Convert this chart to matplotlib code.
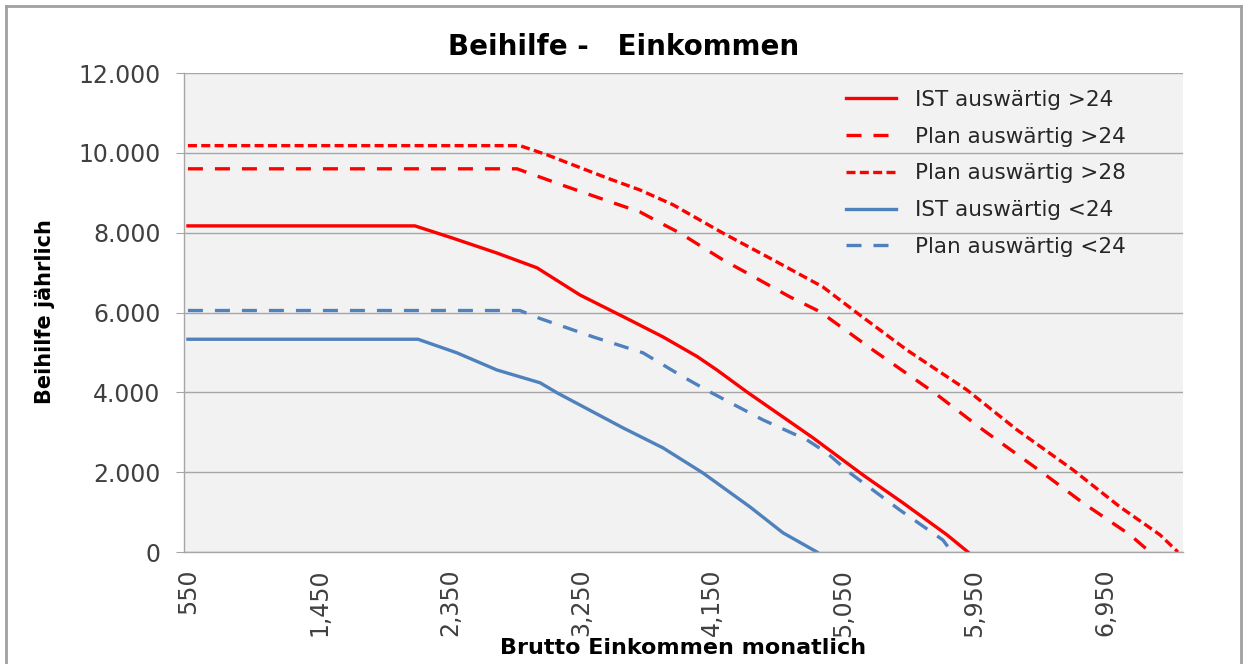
import matplotlib.pyplot as plt
from matplotlib.lines import Line2D
from matplotlib.ticker import FuncFormatter

# Brutto Einkommen (EUR/Monat) -> Beihilfe (EUR/Jahr)
ist_gt24_x = [550, 2109, 2363, 2672, 2947, 3242, 3586, 3812, 4046, 4183, 4389, 4843, 5186, 5461, 5763, 5907]
ist_gt24_y = [8170, 8170, 7870, 7490, 7120, 6440, 5810, 5390, 4900, 4560, 4010, 2860, 1930, 1230, 430, 0]

plan_gt24_x = [550, 2810, 3153, 3469, 3654, 3792, 3929, 4224, 4389, 4685, 4891, 5255, 5680, 6010, 6422, 6697, 7020, 7157]
plan_gt24_y = [9600, 9600, 9150, 8750, 8520, 8250, 7990, 7320, 6990, 6390, 6020, 5060, 3980, 3060, 1980, 1230, 430, 0]

plan_gt28_x = [550, 2830, 3016, 3428, 3654, 3881, 4224, 4568, 4911, 5145, 5488, 5900, 6244, 6628, 6951, 7226, 7349]
plan_gt28_y = [10180, 10180, 9950, 9370, 9070, 8700, 7990, 7320, 6640, 5990, 5060, 4060, 3060, 2060, 1130, 430, 0]

ist_lt24_x = [550, 2130, 2397, 2672, 2968, 3084, 3538, 3812, 4087, 4410, 4637, 4870]
ist_lt24_y = [5330, 5330, 4990, 4560, 4240, 3990, 3110, 2610, 1980, 1130, 480, 0]

plan_lt24_x = [550, 2830, 2968, 3332, 3675, 3950, 4135, 4499, 4801, 4939, 5097, 5440, 5735, 5797]
plan_lt24_y = [6050, 6050, 5850, 5390, 4990, 4390, 4010, 3310, 2810, 2480, 1980, 1050, 300, 0]

x_tick_pos = [550, 1450, 2350, 3250, 4150, 5050, 5950, 6850]
x_tick_labels = ['550', '1,450', '2,350', '3,250', '4,150', '5,050', '5,950', '6,950']
y_ticks = [0, 2000, 4000, 6000, 8000, 10000, 12000]

RED = '#FF0000'
BLUE = '#4F81BD'
GRID = '#A6A6A6'

plt.rcParams['font.family'] = ['DejaVu Sans']

fig = plt.figure(figsize=(12.48, 6.64), dpi=100)
ax = fig.add_axes([184 / 1248, 1 - 552 / 664, 999 / 1248, 479 / 664])
ax.set_facecolor('#F2F2F2')

lw = 2.4
ax.plot(ist_gt24_x, ist_gt24_y, color=RED, lw=lw, label='IST auswärtig >24')
ax.plot(plan_gt24_x, plan_gt24_y, color=RED, lw=lw, dashes=(4.5, 3.6), label='Plan auswärtig >24')
ax.plot(plan_gt28_x, plan_gt28_y, color=RED, lw=lw, dashes=(2.7, 1.3), label='Plan auswärtig >28')
ax.plot(ist_lt24_x, ist_lt24_y, color=BLUE, lw=lw, label='IST auswärtig <24')
ax.plot(plan_lt24_x, plan_lt24_y, color=BLUE, lw=lw, dashes=(4.5, 3.6), label='Plan auswärtig <24')

ax.set_xlim(523, 7384)
ax.set_ylim(0, 12000)
ax.set_yticks(y_ticks)
ax.yaxis.set_major_formatter(FuncFormatter(lambda v, p: f'{int(v):,}'.replace(',', '.')))
ax.set_xticks(x_tick_pos)
ax.set_xticklabels(x_tick_labels, rotation=90)
ax.grid(axis='y', color=GRID, lw=1.0)
ax.set_axisbelow(True)

for s in ['top', 'right']:
    ax.spines[s].set_visible(False)
for s in ['left', 'bottom']:
    ax.spines[s].set_color(GRID)
    ax.spines[s].set_linewidth(1.0)

ax.tick_params(axis='y', length=6, color=GRID, pad=11, labelsize=17, labelcolor='#404040')
ax.tick_params(axis='x', length=0, pad=12, labelsize=17, labelcolor='#404040')

fig.text(624 / 1248, 1 - 47 / 664, 'Beihilfe -   Einkommen', fontsize=20,
         fontweight='bold', ha='center', va='center')
fig.text(683 / 1248, 1 - 648 / 664, 'Brutto Einkommen monatlich', fontsize=16,
         fontweight='bold', ha='center', va='center')
fig.text(45 / 1248, 1 - 312 / 664, 'Beihilfe jährlich', fontsize=15,
         fontweight='bold', ha='center', va='center', rotation=90)

ax.legend(loc='upper left', bbox_to_anchor=(835 / 1248, 1 - 79 / 664),
          bbox_transform=fig.transFigure, frameon=False, fontsize=15.5,
          borderpad=0, labelspacing=0.78, handlelength=2.33, handletextpad=0.9,
          labelcolor='#262626')

# outer chart border
fig.add_artist(Line2D([6 / 1248, 6 / 1248], [0, 1 - 6 / 664], color='#A0A0A0', lw=2))
fig.add_artist(Line2D([6 / 1248, 1241 / 1248], [1 - 6 / 664, 1 - 6 / 664], color='#A0A0A0', lw=2))
fig.add_artist(Line2D([1241 / 1248, 1241 / 1248], [0, 1 - 6 / 664], color='#A0A0A0', lw=2))

fig.savefig('out.png', dpi=100)
